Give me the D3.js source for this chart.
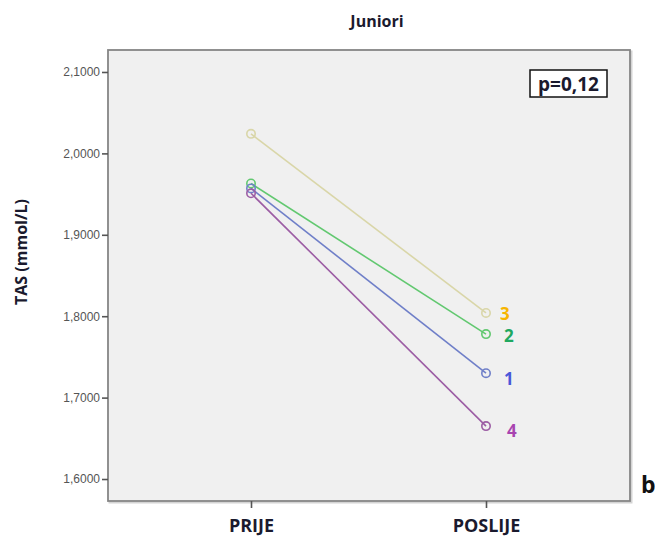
<!DOCTYPE html>
<html>
<head>
<meta charset="utf-8">
<script src="https://cdn.jsdelivr.net/npm/d3@7"></script>
<style>
  body { margin: 0; background: #fff; }
  svg { display: block; }
</style>
</head>
<body>
<svg id="chart"></svg>
<script>
// Data
const categories = ['PRIJE', 'POSLIJE'];
const seriesNames = ['3', '2', '1', '4'];
const seriesValues = [
  [2.024, 1.804],
  [1.963, 1.778],
  [1.957, 1.730],
  [1.951, 1.665]
];
const lineColors = ['#d9d6a8', '#62c870', '#6f7fc8', '#9c5da4'];
const labelColors = ['#f7b500', '#20a860', '#4a58d8', '#a844b0'];
const yTicks = [1.6, 1.7, 1.8, 1.9, 2.0, 2.1];

const width = 655, height = 536;
const svg = d3.select('#chart').attr('width', width).attr('height', height);

const plotLeft = 108, plotRight = 630, plotTop = 50, plotBottom = 501;

const y = d3.scaleLinear().domain([1.573, 2.127]).range([plotBottom, plotTop]);
const x = d3.scalePoint().domain(categories).range([251, 486]);

// Plot background + frame
svg.append('rect')
  .attr('x', plotLeft + 1.5).attr('y', plotTop + 1.5)
  .attr('width', plotRight - plotLeft).attr('height', plotBottom - plotTop)
  .attr('fill', 'none').attr('stroke', '#d4d4d4').attr('stroke-width', 2);
svg.append('rect')
  .attr('x', plotLeft).attr('y', plotTop)
  .attr('width', plotRight - plotLeft).attr('height', plotBottom - plotTop)
  .attr('fill', '#f0f0f0').attr('stroke', '#858585').attr('stroke-width', 1.8);

// Y axis
const fmt = d => d3.format('.4f')(d).replace('.', ',');
const yAxis = svg.append('g')
  .attr('transform', `translate(${plotLeft},0)`)
  .call(d3.axisLeft(y).tickValues(yTicks).tickSize(6).tickFormat(fmt));
yAxis.select('.domain').remove();
yAxis.selectAll('line').attr('stroke', '#555').attr('stroke-width', 1.6);
yAxis.selectAll('text')
  .attr('fill', '#555').attr('x', -8)
  .style('font-family', 'Liberation Sans, Arial, sans-serif').style('font-size', '12px');

// X axis
const xAxis = svg.append('g')
  .attr('transform', `translate(0,${plotBottom})`)
  .call(d3.axisBottom(x).tickSize(7).tickPadding(11));
xAxis.select('.domain').remove();
xAxis.selectAll('line').attr('stroke', '#555').attr('stroke-width', 1.6);
xAxis.selectAll('text')
  .attr('fill', '#1a1a2e')
  .style('font-family', 'Open Sans, sans-serif').style('font-size', '18px').style('font-weight', 'bold');

// Lines + points
const line = d3.line().x((d, i) => x(categories[i])).y(d => y(d));
seriesValues.forEach((vals, s) => {
  svg.append('path')
    .attr('d', line(vals))
    .attr('fill', 'none').attr('stroke', lineColors[s]).attr('stroke-width', 1.6);
  svg.selectAll(null).data(vals).enter().append('circle')
    .attr('cx', (d, i) => x(categories[i]))
    .attr('cy', d => y(d))
    .attr('r', 4.2)
    .attr('fill', 'none').attr('stroke', lineColors[s]).attr('stroke-width', 1.6);
});

// Series labels at the right end
const labelDx = [14, 18, 18, 21];
const labelDy = [7, 8, 12, 11];
seriesValues.forEach((vals, s) => {
  svg.append('text')
    .attr('x', x(categories[1]) + labelDx[s])
    .attr('y', y(vals[1]) + labelDy[s])
    .attr('fill', labelColors[s])
    .style('font-family', 'Open Sans, sans-serif').style('font-size', '17px').style('font-weight', 'bold')
    .text(seriesNames[s]);
});

// Title
svg.append('text')
  .attr('x', 377).attr('y', 27)
  .attr('text-anchor', 'middle').attr('fill', '#1a1a2e')
  .style('font-family', 'Open Sans, sans-serif').style('font-size', '16px').style('font-weight', 'bold')
  .text('Juniori');

// Y label
svg.append('text')
  .attr('transform', 'translate(27,252) rotate(-90)')
  .attr('text-anchor', 'middle').attr('fill', '#1a1a2e')
  .style('font-family', 'Open Sans, sans-serif').style('font-size', '16px').style('font-weight', 'bold')
  .text('TAS (mmol/L)');

// p-value box
svg.append('rect')
  .attr('x', 530).attr('y', 70).attr('width', 77).attr('height', 27)
  .attr('fill', '#fff').attr('stroke', '#111').attr('stroke-width', 1.5);
svg.append('text')
  .attr('x', 568.5).attr('y', 91)
  .attr('text-anchor', 'middle').attr('fill', '#1a1a2e')
  .style('font-family', 'Open Sans, sans-serif').style('font-size', '19px').style('font-weight', 'bold')
  .text('p=0,12');

// Panel letter
svg.append('text')
  .attr('x', 641).attr('y', 493)
  .attr('fill', '#111')
  .style('font-family', 'Open Sans, sans-serif').style('font-size', '23px').style('font-weight', 'bold')
  .text('b');
</script>
</body>
</html>
